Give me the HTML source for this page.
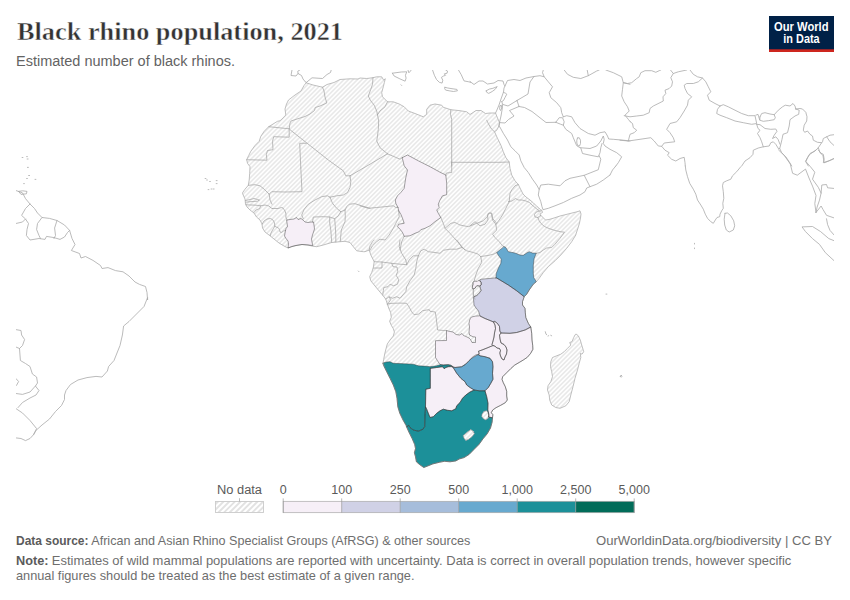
<!DOCTYPE html>
<html>
<head>
<meta charset="utf-8">
<title>Black rhino population, 2021</title>
<style>
html,body{margin:0;padding:0;background:#fff;}
body{width:850px;height:600px;overflow:hidden;font-family:"Liberation Sans",sans-serif;}
svg{display:block;}
text{font-family:"Liberation Sans",sans-serif;}
.ttl{font-family:"Liberation Serif",serif;font-weight:bold;font-size:26px;fill:#333;stroke:#fff;stroke-width:0.45px;}
.sub{font-size:14px;fill:#636363;}
.ft{font-size:13px;fill:#6e6e6e;}
.ftb{font-weight:bold;fill:#5b5b5b;}
.lg{font-size:12.5px;fill:#5a5a5a;}
.logo{font-weight:bold;font-size:12px;fill:#fff;}
</style>
</head>
<body>
<svg id="chart" width="850" height="600" viewBox="0 0 850 600">
<defs>
<pattern id="hatch" patternUnits="userSpaceOnUse" x="0" y="0" width="9" height="9">
<rect width="9" height="9" fill="#fff"/>
<path d="M-6.40,-2L-2,-6.40M-1.90,-2L-2,-1.90M2.60,-2L-2,2.60M7.10,-2L-2,7.10M11.60,-2L-2,11.60M16.10,-2L-2,16.10M20.60,-2L-2,20.60" stroke="#e9e9e9" stroke-width="1.6" fill="none"/>
</pattern>
<pattern id="hatchL" patternUnits="userSpaceOnUse" x="0" y="0" width="113" height="113">
<rect width="113" height="113" fill="#fff"/>
<path d="M-7.30,-2L-2,-7.30M-1.65,-2L-2,-1.65M4.00,-2L-2,4.00M9.65,-2L-2,9.65M15.30,-2L-2,15.30M20.95,-2L-2,20.95M26.60,-2L-2,26.60M32.25,-2L-2,32.25M37.90,-2L-2,37.90M43.55,-2L-2,43.55M49.20,-2L-2,49.20M54.85,-2L-2,54.85M60.50,-2L-2,60.50M66.15,-2L-2,66.15M71.80,-2L-2,71.80M77.45,-2L-2,77.45M83.10,-2L-2,83.10M88.75,-2L-2,88.75M94.40,-2L-2,94.40M100.05,-2L-2,100.05M105.70,-2L-2,105.70M111.35,-2L-2,111.35M117.00,-2L-2,117.00M122.65,-2L-2,122.65M128.30,-2L-2,128.30M133.95,-2L-2,133.95M139.60,-2L-2,139.60M145.25,-2L-2,145.25M150.90,-2L-2,150.90M156.55,-2L-2,156.55M162.20,-2L-2,162.20M167.85,-2L-2,167.85M173.50,-2L-2,173.50M179.15,-2L-2,179.15M184.80,-2L-2,184.80M190.45,-2L-2,190.45M196.10,-2L-2,196.10M201.75,-2L-2,201.75M207.40,-2L-2,207.40M213.05,-2L-2,213.05M218.70,-2L-2,218.70M224.35,-2L-2,224.35M230.00,-2L-2,230.00" stroke="#e2e2e2" stroke-width="1.9" fill="none"/>
</pattern>
</defs>
<rect width="850" height="600" fill="#fff"/>

<!-- MAP -->
<g id="map">
<!--MAPSTART-->
<clipPath id="mapclip"><rect x="16" y="70" width="818" height="408"/></clipPath>
<g clip-path="url(#mapclip)" fill="none" stroke-linejoin="round" stroke-linecap="round">
<clipPath id="afclip"><path d="M306.2,82.8 L313.0,85.0 L322.5,87.2 L327.0,84.5 L334.0,82.5 L340.0,79.5 L350.0,78.8 L358.0,79.0 L360.0,78.0 L366.7,78.5 L373.0,77.7 L376.7,76.8 L381.7,76.8 L383.7,80.2 L385.3,78.7 L384.3,82.7 L383.3,86.8 L381.7,92.7 L382.5,96.8 L387.5,101.8 L393.3,101.8 L399.2,104.0 L404.2,106.8 L408.3,111.0 L415.0,113.5 L423.3,116.8 L426.7,114.3 L426.7,109.3 L430.0,105.2 L435.0,104.0 L441.7,105.2 L443.3,107.3 L450.8,109.7 L460.0,110.7 L466.7,111.8 L470.0,114.5 L476.0,110.5 L481.0,110.5 L485.5,113.5 L490.0,113.0 L495.5,113.0 L497.5,118.0 L499.5,122.5 L498.5,127.0 L496.5,130.5 L494.5,131.7 L497.5,138.3 L500.8,145.0 L503.3,151.7 L505.8,157.5 L509.2,162.0 L510.0,168.3 L511.7,175.0 L515.0,180.8 L518.3,184.5 L521.0,190.0 L523.0,194.0 L526.0,197.0 L530.0,200.0 L533.5,203.0 L537.0,206.5 L540.5,209.5 L542.0,210.5 L542.5,212.5 L540.5,213.5 L540.0,215.0 L541.0,215.5 L543.5,218.0 L545.5,220.0 L549.0,219.5 L554.0,218.0 L560.0,216.0 L566.0,214.5 L572.0,213.0 L577.0,211.8 L580.0,210.8 L581.0,214.0 L580.5,218.0 L579.5,223.0 L578.0,228.0 L576.0,234.0 L575.8,235.0 L571.7,241.7 L566.7,248.3 L560.8,255.0 L555.0,260.8 L548.3,266.7 L543.3,272.5 L539.2,278.3 L536.3,281.7 L533.3,284.2 L529.2,290.0 L526.7,294.2 L524.2,296.7 L522.5,301.7 L522.5,305.0 L525.0,308.3 L525.3,312.5 L525.8,317.5 L528.3,323.3 L530.8,327.2 L531.7,333.3 L532.0,340.0 L532.7,345.3 L532.9,349.3 L530.7,353.3 L527.3,357.3 L523.3,360.0 L519.3,362.4 L514.7,365.1 L510.7,368.7 L506.7,372.7 L502.7,376.7 L502.0,379.3 L503.3,382.7 L505.3,386.7 L506.7,391.3 L506.7,396.0 L507.3,400.0 L505.3,402.7 L500.7,405.3 L496.0,407.7 L492.7,410.0 L491.3,412.7 L492.9,414.7 L492.5,417.8 L492.1,422.2 L490.5,428.0 L487.2,433.8 L483.1,438.7 L478.9,444.5 L474.0,449.4 L469.1,454.4 L464.1,457.6 L459.2,459.0 L455.9,460.9 L450.1,461.8 L444.4,461.3 L439.4,462.3 L432.8,463.9 L427.9,465.9 L423.8,467.5 L419.6,464.6 L416.4,461.8 L415.5,456.8 L414.4,452.7 L415.5,448.6 L414.7,444.5 L412.2,438.7 L408.9,432.1 L406.5,426.7 L403.0,420.0 L399.8,413.3 L397.8,406.7 L397.0,398.3 L395.8,391.7 L393.3,385.0 L390.0,378.3 L386.7,371.7 L384.2,366.7 L383.0,363.0 L383.7,359.3 L384.7,354.0 L386.0,348.7 L387.3,344.0 L390.0,340.0 L393.3,336.0 L394.4,332.0 L393.3,328.7 L391.3,325.3 L389.6,321.3 L391.3,317.3 L390.7,312.7 L388.7,308.0 L387.3,304.0 L385.8,299.2 L382.5,295.0 L378.3,290.0 L374.2,285.0 L370.8,280.8 L369.7,276.7 L371.7,272.5 L373.3,267.5 L374.2,261.7 L370.8,255.0 L369.2,250.0 L365.0,251.7 L363.3,251.7 L356.7,250.8 L353.3,246.7 L350.0,242.5 L345.0,241.3 L340.0,241.7 L331.7,242.5 L323.3,245.0 L316.7,246.7 L312.5,246.2 L308.0,245.0 L302.0,244.5 L296.0,245.5 L292.0,246.5 L288.0,248.0 L284.0,246.0 L279.0,243.0 L274.0,239.0 L269.0,235.0 L265.0,232.0 L262.5,228.0 L262.0,224.0 L260.0,220.0 L256.5,217.0 L254.0,213.0 L250.0,210.0 L247.0,207.0 L245.5,204.0 L245.0,199.0 L242.5,193.5 L242.5,192.8 L245.0,189.2 L248.3,185.3 L249.2,180.0 L249.7,173.3 L250.0,166.7 L247.5,163.3 L246.7,159.7 L248.7,155.5 L250.8,151.3 L255.0,145.5 L259.2,141.3 L260.8,136.3 L264.2,131.3 L268.7,126.7 L277.5,121.3 L280.0,120.8 L282.0,119.0 L285.8,115.0 L285.0,109.0 L286.5,104.0 L288.5,100.0 L295.0,95.0 L301.0,91.0 L304.0,85.5 L306.2,82.8Z M576.3,334.2 L578.3,335.8 L580.3,340.0 L581.7,345.0 L583.0,349.2 L583.7,351.7 L582.0,354.2 L580.3,353.3 L580.8,357.5 L579.2,363.3 L577.5,370.0 L575.0,378.3 L573.0,386.7 L570.8,395.0 L569.2,401.7 L565.8,405.8 L560.0,408.3 L555.8,407.5 L551.7,405.0 L549.7,400.0 L549.2,395.0 L547.5,390.0 L548.0,385.8 L550.8,381.7 L552.5,376.7 L551.7,371.7 L550.5,366.7 L550.8,361.7 L552.5,357.5 L556.7,355.8 L560.8,354.2 L564.2,351.7 L567.5,348.3 L570.8,345.0 L569.7,342.5 L572.0,341.7 L573.7,337.5 L575.0,335.0Z M463.3,435.4 L467.4,432.1 L470.7,429.6 L473.2,431.3 L474.3,433.8 L471.5,437.1 L468.2,439.5 L465.8,440.4 L464.1,438.2Z M482.2,414.0 L483.9,411.5 L486.4,410.7 L488.0,412.4 L488.8,415.6 L488.0,418.4 L485.5,419.8 L483.1,418.4 L481.9,416.5Z"/></clipPath>
<path d="M306.2,82.8 L313.0,85.0 L322.5,87.2 L327.0,84.5 L334.0,82.5 L340.0,79.5 L350.0,78.8 L358.0,79.0 L360.0,78.0 L366.7,78.5 L373.0,77.7 L376.7,76.8 L381.7,76.8 L383.7,80.2 L385.3,78.7 L384.3,82.7 L383.3,86.8 L381.7,92.7 L382.5,96.8 L387.5,101.8 L393.3,101.8 L399.2,104.0 L404.2,106.8 L408.3,111.0 L415.0,113.5 L423.3,116.8 L426.7,114.3 L426.7,109.3 L430.0,105.2 L435.0,104.0 L441.7,105.2 L443.3,107.3 L450.8,109.7 L460.0,110.7 L466.7,111.8 L470.0,114.5 L476.0,110.5 L481.0,110.5 L485.5,113.5 L490.0,113.0 L495.5,113.0 L497.5,118.0 L499.5,122.5 L498.5,127.0 L496.5,130.5 L494.5,131.7 L497.5,138.3 L500.8,145.0 L503.3,151.7 L505.8,157.5 L509.2,162.0 L510.0,168.3 L511.7,175.0 L515.0,180.8 L518.3,184.5 L521.0,190.0 L523.0,194.0 L526.0,197.0 L530.0,200.0 L533.5,203.0 L537.0,206.5 L540.5,209.5 L542.0,210.5 L542.5,212.5 L540.5,213.5 L540.0,215.0 L541.0,215.5 L543.5,218.0 L545.5,220.0 L549.0,219.5 L554.0,218.0 L560.0,216.0 L566.0,214.5 L572.0,213.0 L577.0,211.8 L580.0,210.8 L581.0,214.0 L580.5,218.0 L579.5,223.0 L578.0,228.0 L576.0,234.0 L575.8,235.0 L571.7,241.7 L566.7,248.3 L560.8,255.0 L555.0,260.8 L548.3,266.7 L543.3,272.5 L539.2,278.3 L536.3,281.7 L533.3,284.2 L529.2,290.0 L526.7,294.2 L524.2,296.7 L522.5,301.7 L522.5,305.0 L525.0,308.3 L525.3,312.5 L525.8,317.5 L528.3,323.3 L530.8,327.2 L531.7,333.3 L532.0,340.0 L532.7,345.3 L532.9,349.3 L530.7,353.3 L527.3,357.3 L523.3,360.0 L519.3,362.4 L514.7,365.1 L510.7,368.7 L506.7,372.7 L502.7,376.7 L502.0,379.3 L503.3,382.7 L505.3,386.7 L506.7,391.3 L506.7,396.0 L507.3,400.0 L505.3,402.7 L500.7,405.3 L496.0,407.7 L492.7,410.0 L491.3,412.7 L492.9,414.7 L492.5,417.8 L492.1,422.2 L490.5,428.0 L487.2,433.8 L483.1,438.7 L478.9,444.5 L474.0,449.4 L469.1,454.4 L464.1,457.6 L459.2,459.0 L455.9,460.9 L450.1,461.8 L444.4,461.3 L439.4,462.3 L432.8,463.9 L427.9,465.9 L423.8,467.5 L419.6,464.6 L416.4,461.8 L415.5,456.8 L414.4,452.7 L415.5,448.6 L414.7,444.5 L412.2,438.7 L408.9,432.1 L406.5,426.7 L403.0,420.0 L399.8,413.3 L397.8,406.7 L397.0,398.3 L395.8,391.7 L393.3,385.0 L390.0,378.3 L386.7,371.7 L384.2,366.7 L383.0,363.0 L383.7,359.3 L384.7,354.0 L386.0,348.7 L387.3,344.0 L390.0,340.0 L393.3,336.0 L394.4,332.0 L393.3,328.7 L391.3,325.3 L389.6,321.3 L391.3,317.3 L390.7,312.7 L388.7,308.0 L387.3,304.0 L385.8,299.2 L382.5,295.0 L378.3,290.0 L374.2,285.0 L370.8,280.8 L369.7,276.7 L371.7,272.5 L373.3,267.5 L374.2,261.7 L370.8,255.0 L369.2,250.0 L365.0,251.7 L363.3,251.7 L356.7,250.8 L353.3,246.7 L350.0,242.5 L345.0,241.3 L340.0,241.7 L331.7,242.5 L323.3,245.0 L316.7,246.7 L312.5,246.2 L308.0,245.0 L302.0,244.5 L296.0,245.5 L292.0,246.5 L288.0,248.0 L284.0,246.0 L279.0,243.0 L274.0,239.0 L269.0,235.0 L265.0,232.0 L262.5,228.0 L262.0,224.0 L260.0,220.0 L256.5,217.0 L254.0,213.0 L250.0,210.0 L247.0,207.0 L245.5,204.0 L245.0,199.0 L242.5,193.5 L242.5,192.8 L245.0,189.2 L248.3,185.3 L249.2,180.0 L249.7,173.3 L250.0,166.7 L247.5,163.3 L246.7,159.7 L248.7,155.5 L250.8,151.3 L255.0,145.5 L259.2,141.3 L260.8,136.3 L264.2,131.3 L268.7,126.7 L277.5,121.3 L280.0,120.8 L282.0,119.0 L285.8,115.0 L285.0,109.0 L286.5,104.0 L288.5,100.0 L295.0,95.0 L301.0,91.0 L304.0,85.5 L306.2,82.8Z" fill="url(#hatch)" stroke="none"/>
<path d="M576.3,334.2 L578.3,335.8 L580.3,340.0 L581.7,345.0 L583.0,349.2 L583.7,351.7 L582.0,354.2 L580.3,353.3 L580.8,357.5 L579.2,363.3 L577.5,370.0 L575.0,378.3 L573.0,386.7 L570.8,395.0 L569.2,401.7 L565.8,405.8 L560.0,408.3 L555.8,407.5 L551.7,405.0 L549.7,400.0 L549.2,395.0 L547.5,390.0 L548.0,385.8 L550.8,381.7 L552.5,376.7 L551.7,371.7 L550.5,366.7 L550.8,361.7 L552.5,357.5 L556.7,355.8 L560.8,354.2 L564.2,351.7 L567.5,348.3 L570.8,345.0 L569.7,342.5 L572.0,341.7 L573.7,337.5 L575.0,335.0Z" fill="url(#hatch)" stroke="none"/>
<path d="M463.3,435.4 L467.4,432.1 L470.7,429.6 L473.2,431.3 L474.3,433.8 L471.5,437.1 L468.2,439.5 L465.8,440.4 L464.1,438.2Z" fill="url(#hatch)" stroke="none"/>
<path d="M482.2,414.0 L483.9,411.5 L486.4,410.7 L488.0,412.4 L488.8,415.6 L488.0,418.4 L485.5,419.8 L483.1,418.4 L481.9,416.5Z" fill="url(#hatch)" stroke="none"/>
<path d="M292.0,70.0 L291.0,75.5 L296.0,76.0 L298.0,73.5 L301.5,75.5 L303.0,79.0 L305.5,82.0 L306.5,82.3 L312.0,77.8 L322.5,78.5 L327.0,74.5 L330.5,72.5 L331.2,70.0 M298.0,73.5 L297.8,71.2 L299.8,70.0 M401.0,84.8 L401.7,85.5 M470.0,81.5 L474.0,84.5 L479.0,81.0 L483.0,81.0 L487.5,84.0 L494.0,83.0 L498.0,80.5 L503.0,81.0 L504.0,84.5 L505.0,86.0 L504.0,88.0 L503.5,92.0 L501.0,99.0 L499.0,105.0 L496.5,111.0 L495.5,113.0 M505.0,86.0 L507.5,80.5 L514.0,79.5 L520.0,80.5 L526.0,78.0 L534.0,76.5 L540.0,75.7 L544.2,76.8 L542.5,72.7 L543.3,70.0 M534.0,76.5 L530.0,82.0 L529.0,88.0 L528.0,94.0 L517.0,100.5 M517.0,100.5 L508.0,106.0 L503.0,104.5 M503.7,92.5 L505.2,93.0 L506.8,94.2 L505.0,97.5 L503.5,100.5 L501.8,101.5 M501.8,101.5 L502.6,104.5 L502.2,109.0 L501.0,116.0 L499.5,122.5 M500.0,106.0 L501.2,105.0 L501.8,108.0 L500.5,110.5 L499.6,109.0 L500.0,106.0 M517.0,100.5 L519.0,106.5 M519.0,106.5 L509.5,110.5 L514.0,116.0 L508.5,119.5 L505.0,123.0 L499.7,122.6 M519.0,106.5 L524.5,107.5 L532.0,111.5 L546.0,122.5 L555.8,122.3 M555.8,122.3 L559.2,117.7 L562.5,117.7 L564.2,121.8 L563.3,125.2 L560.8,124.3 L555.8,122.3 M544.2,76.8 L548.3,81.8 L552.5,86.8 L549.2,92.7 L550.8,97.7 L556.7,102.7 L560.8,107.7 L561.7,112.7 L563.3,116.8 M563.3,116.8 L566.7,115.7 L571.7,116.8 L575.0,122.7 L580.0,128.5 L588.3,133.5 L595.0,135.2 L600.0,132.7 L605.0,131.8 L607.5,136.0 L608.7,139.0 L613.3,139.3 L623.3,140.2 L630.0,141.0 M563.3,125.2 L565.8,129.3 L571.7,133.5 L573.3,137.7 L575.0,141.8 L576.7,145.7 L580.0,147.7 L590.0,148.5 L596.7,146.0 L600.8,141.0 L603.3,136.0 L604.2,139.3 L603.3,143.5 L605.0,146.0 L610.0,149.3 L616.7,152.7 L621.7,156.8 L618.3,162.7 L615.8,166.0 M580.8,148.0 L582.5,153.5 L590.0,155.2 L598.3,156.8 L600.0,152.7 L600.8,147.7 L602.0,143.5 M564.2,70.0 L567.5,74.3 L573.3,77.3 L580.8,78.5 L588.3,75.7 L587.2,70.0 M588.3,75.7 L596.7,71.0 L599.2,70.0 M605.8,70.0 L613.3,72.7 L621.7,76.8 L623.3,82.7 L630.0,84.3 M623.3,82.7 L622.5,89.3 L621.7,96.0 L624.2,101.8 L627.5,106.8 L629.2,111.0 L625.0,115.2 L628.3,119.3 L630.3,121.8 M499.7,122.6 L499.0,127.0 L499.7,126.7 L503.3,133.3 L507.5,140.0 L510.8,146.7 L515.0,150.8 L519.2,155.0 L520.8,160.8 L524.2,167.5 L528.3,172.5 L532.5,179.2 L536.7,185.0 L539.2,189.5 L538.3,195.0 L540.8,201.7 L542.0,206.7 L543.0,209.7 L548.3,208.3 L555.0,205.8 L563.3,202.5 L571.7,198.3 L580.0,195.0 L585.0,191.7 L586.7,188.0 L590.0,186.7 L596.7,184.2 L603.3,180.0 L610.0,175.0 M539.2,189.5 L540.8,185.0 L548.3,184.2 L560.0,185.8 L565.0,180.8 L570.0,178.3 L584.2,175.3 L598.3,169.7 L600.8,159.2 L599.2,155.8 M584.2,175.3 L590.0,186.7 M358.3,271.0 L359.0,271.7 M606.0,294.1 L606.9,294.1 M392.4,73.2 L394.1,76.0 L399.8,78.8 L405.1,81.2 L406.1,78.1 L405.4,75.3 L406.8,71.8 L401.2,72.0 L392.4,73.2 M407.9,69.9 L408.9,72.8 L410.4,71.1 L411.3,69.9 M432.5,69.9 L434.4,75.3 L436.5,79.5 L439.3,82.3 L442.1,83.1 L442.8,80.2 L441.4,77.4 L443.5,76.0 L445.6,75.3 L444.2,73.9 L447.1,73.2 L447.5,71.1 L445.6,69.9 M444.9,87.3 L447.8,88.0 L452.0,88.7 L456.9,89.4 L457.4,90.8 L453.4,91.5 L449.2,90.8 L445.6,90.1 L444.7,88.7 L444.9,87.3 M458.4,69.9 L461.2,74.6 L464.0,80.9 L468.2,81.7 L470.6,82.3 M486.2,90.8 L489.4,89.1 L492.9,88.3 L497.2,86.6 L495.1,89.4 L492.2,91.5 L488.7,93.4 L486.6,92.2 L486.2,90.8 M610.0,175.0 L612.5,170.0 L615.8,166.0 M577.5,138.0 L579.2,137.7 L580.5,140.2 L580.5,143.5 L579.5,146.0 L577.8,145.7 L576.8,143.0 L576.8,140.2 L577.5,138.0 M623.7,82.7 L627.5,83.5 L631.7,82.7 L636.7,78.5 L639.2,76.8 L640.8,72.7 L645.0,70.7 L651.7,70.7 L655.8,72.3 L659.2,70.7 L660.8,70.0 M624.2,115.7 L630.0,116.8 L636.7,116.0 L643.3,115.2 L649.2,112.7 L650.0,108.5 L653.3,106.0 L660.0,102.7 L663.3,101.0 L663.0,96.8 L665.8,93.5 L665.0,90.2 L669.2,88.5 L671.7,86.0 L672.5,81.8 L670.8,77.7 L673.3,73.5 L678.3,71.8 L686.7,70.0 M670.5,70.0 L673.3,73.5 M630.3,121.8 L632.5,123.5 L633.3,127.7 L636.7,130.2 L634.2,132.7 L630.0,134.3 L628.3,141.0 M620.0,140.2 L628.3,141.0 L640.0,139.3 L650.8,137.7 L654.2,141.0 L658.3,146.0 L661.7,146.3 L665.0,150.2 L669.2,152.7 L667.5,155.2 L671.7,159.3 L675.8,161.0 L680.0,158.5 L684.2,157.3 L685.0,162.7 L685.3,166.0 M661.7,146.3 L664.2,143.0 L670.0,142.3 L674.7,141.8 L673.3,137.7 L670.0,132.7 L666.7,129.3 L670.0,123.5 L676.7,121.8 L680.0,117.7 L684.2,111.0 L687.5,105.2 L688.3,100.2 L691.7,96.8 L687.5,93.5 L685.0,88.5 L684.2,85.2 L686.7,83.5 L693.3,83.5 L698.3,81.8 L702.5,78.0 M690.0,70.0 L693.3,74.3 L697.5,76.8 L702.5,78.0 L705.8,81.8 L708.3,86.8 L710.8,91.8 L707.5,95.2 L709.2,100.2 L715.0,103.5 L720.0,106.0 M720.0,106.0 L723.3,104.7 L728.3,106.8 L735.0,110.2 L741.7,113.5 L748.3,115.7 L755.0,115.7 L756.7,123.5 L751.7,124.3 L743.3,122.7 L735.0,121.0 L726.7,117.7 L720.0,115.2 L716.7,113.5 L717.5,109.3 L720.0,106.0 M755.8,115.2 L758.0,114.3 L758.7,116.8 L759.7,119.7 M760.0,116.8 L761.7,113.5 L765.0,112.7 L770.0,114.0 L774.2,114.7 L775.3,117.7 L774.2,119.7 L768.3,120.7 L763.3,121.3 L759.7,120.2 L760.0,116.8 M774.2,114.7 L778.3,110.2 L782.5,106.8 L785.3,105.2 L790.0,106.0 L793.0,103.5 L795.0,106.0 L795.8,109.0 M795.8,109.0 L799.2,110.2 L798.7,114.3 L795.0,116.0 L790.0,119.7 L789.2,126.0 L787.5,132.7 L783.0,134.3 L782.0,139.3 L780.8,144.3 L779.7,148.5 M795.8,109.0 L800.0,108.5 L802.5,109.0 L805.8,112.3 L807.0,116.8 L806.7,121.0 L804.2,125.2 L803.3,130.2 L804.7,132.3 L807.5,131.0 L810.0,134.3 L812.5,136.0 L813.3,140.2 L817.5,142.3 L821.7,142.7 L822.5,141.8 L823.3,138.5 L826.7,136.8 L830.0,135.2 L834.2,134.7 M826.7,136.8 L830.0,141.8 L834.2,145.7 M821.7,142.7 L818.3,147.7 L815.0,151.0 L810.0,153.5 L807.5,157.7 L805.8,161.8 L808.3,166.0 M818.3,147.7 L820.0,152.7 L823.3,154.3 L824.2,159.3 L823.3,162.7 L828.3,161.0 L834.2,158.5 M756.7,124.3 L760.0,124.7 L765.0,128.5 L770.8,129.3 L775.8,129.0 L777.0,131.3 L774.2,135.2 L772.5,138.5 L775.8,136.8 L778.0,139.3 L780.0,144.3 M756.7,124.3 L758.0,128.5 L760.0,130.2 L757.5,133.5 L760.0,137.7 L761.7,141.8 L763.3,146.8 M741.7,166.0 L745.0,161.0 L750.0,157.7 L753.0,154.3 L753.3,150.2 L758.3,148.0 L763.3,146.8 L769.2,146.0 L770.8,142.7 L773.3,141.8 L775.8,144.3 L778.7,149.0 L779.7,148.5 L781.7,152.7 L785.8,156.8 L789.2,161.8 L791.7,166.0 M685.3,166.0 L685.8,170.0 L687.5,176.7 L689.7,183.3 L693.3,189.2 L695.8,194.2 L697.5,200.0 L700.8,205.0 L703.3,209.2 L705.3,214.2 L707.5,218.3 L710.8,221.7 L713.3,223.3 L715.3,220.0 L717.0,217.5 L719.7,216.7 L720.0,214.2 L721.7,210.8 L723.3,208.3 L722.8,203.3 L723.8,198.3 L723.3,191.7 L722.5,185.8 L723.3,182.5 L726.7,180.8 L730.8,179.2 L732.5,175.8 L736.7,171.7 L740.8,166.7 M725.0,213.3 L727.5,213.0 L730.8,215.8 L733.7,220.8 L734.7,225.8 L733.3,230.0 L729.2,232.0 L726.3,230.0 L724.7,225.0 L724.2,219.2 L725.0,213.3 M694.5,243.3 L694.5,244.0 M694.5,248.0 L694.5,248.7 M778.6,150.0 L784.5,155.8 L790.3,164.0 L792.6,173.3 L797.3,175.2 L805.5,169.1 L809.0,178.0 L812.5,186.1 L816.0,195.5 L814.8,203.6 L816.0,212.5 M816.0,150.0 L809.4,154.7 L805.5,161.2 L810.1,166.3 L814.8,172.2 L812.5,179.2 L818.3,187.3 L821.1,193.1 L819.5,200.1 L817.1,207.1 L816.0,212.5 M818.3,150.0 L823.0,155.8 L824.1,162.8 L830.0,160.5 L834.6,158.2 M821.1,193.1 L821.8,185.0 L826.5,184.5 L827.6,187.8 L834.6,188.5 M816.0,212.5 L821.1,206.0 L823.0,209.5 L826.5,215.3 L834.6,218.1 M826.5,218.8 L827.6,224.6 L830.0,230.4 L834.6,235.6 M834.6,240.9 L828.8,238.6 L820.6,231.6 L812.5,226.5 L802.0,226.9 L805.5,231.6 L812.5,238.6 L819.5,244.4 L825.3,252.6 L834.6,261.2 M22.1,157.5 L22.9,157.5 M26.6,156.6 L27.4,156.6 M27.1,159.0 L28.1,159.0 M27.4,167.4 L28.4,167.4 M28.6,175.5 L29.6,175.5 M26.6,178.5 L27.4,178.5 M35.0,179.4 L35.9,179.4 M23.6,183.6 L24.4,183.6 M18.6,191.4 L22.5,190.8 L27.0,191.4 L26.4,193.8 L21.0,194.4 L18.6,191.4 M15.9,190.5 L22.5,192.9 L25.5,198.6 L30.0,204.0 L34.5,208.5 L37.5,213.0 L42.0,217.5 L49.5,218.4 L57.0,220.5 L64.5,225.0 L69.6,230.4 L72.0,238.5 L75.0,244.5 L71.4,250.5 L79.5,253.5 L81.0,258.0 L85.5,256.5 L93.0,260.4 L100.5,265.5 L102.0,268.5 L108.0,267.6 L115.5,270.6 L123.0,271.8 L129.0,276.0 L135.0,282.0 L139.5,284.4 L145.5,286.5 L147.0,292.5 L147.6,300.0 L147.6,297.5 L144.0,306.5 L136.5,314.0 L129.0,321.5 L123.6,326.0 L122.4,335.0 L120.0,345.5 L117.0,353.0 L114.0,360.5 L108.6,366.5 L107.4,371.0 L102.0,377.0 L96.0,376.4 L87.0,377.6 L78.0,380.0 L70.5,384.5 L66.0,390.5 L64.5,395.0 L64.5,399.5 L61.5,405.5 L55.5,411.5 L49.5,419.0 L42.0,425.0 L36.0,430.4 L33.6,434.6 L30.0,438.5 L25.5,440.6 L21.0,438.5 L15.9,437.9 M30.0,204.0 L25.5,208.5 L21.6,215.4 L25.5,219.0 L28.5,223.5 L27.0,229.5 L26.4,235.5 L30.0,240.0 L39.0,238.5 L45.0,239.4 L46.5,236.4 L54.0,237.6 L60.0,239.4 L64.5,237.0 L67.5,232.5 L69.6,230.4 M15.9,223.5 L22.5,222.0 L25.5,219.0 M42.0,217.5 L37.5,223.5 L36.6,229.5 L39.0,235.5 L40.5,238.5 M57.0,220.5 L54.6,228.0 L55.5,235.5 L54.0,238.5 M205.1,178.5 L205.9,178.5 M206.6,180.0 L207.4,180.0 M209.6,181.5 L210.4,181.5 M216.2,180.6 L217.1,180.6 M216.2,183.6 L217.1,183.6 M208.1,189.6 L208.9,189.6 M211.1,189.0 L211.9,189.0 M213.2,189.0 L214.1,189.0 M33.6,434.6 L36.6,428.6 L30.0,420.5 L22.5,413.0 L18.0,410.0 L15.9,408.5 M15.9,329.6 L21.0,330.5 L21.6,335.0 L24.6,339.5 L22.5,345.5 L19.5,348.5 L15.9,347.0 M19.5,348.5 L20.4,360.5 L25.5,363.5 L30.0,366.5 L32.4,374.0 L36.6,377.0 L37.5,383.0 L35.4,386.0 L39.0,390.5 L36.0,395.0 L30.0,398.0 L22.5,402.5 L18.0,407.6 M15.9,393.5 L22.5,394.4 L30.0,392.0 L35.4,386.0 M15.9,378.5 L18.6,381.5 L16.5,385.4" stroke="#a9a9a9" stroke-width="0.8"/>
<path d="M402.5,157.5 L407.5,155.0 L418.3,160.8 L430.0,166.7 L440.0,172.2 L445.8,175.0 L446.7,183.3 L446.7,194.7 L442.5,195.8 L440.0,200.0 L438.3,204.2 L439.2,207.5 L436.7,210.0 L438.3,213.3 L440.8,217.5 L435.0,221.7 L430.0,225.8 L425.0,228.3 L420.8,229.7 L419.2,231.7 L415.0,233.3 L410.0,235.8 L404.2,236.3 L402.5,232.5 L400.0,229.2 L397.5,226.7 L398.7,224.2 L404.2,223.3 L402.5,218.3 L400.8,214.2 L398.7,210.8 L398.0,207.5 L395.8,203.3 L395.3,200.0 L397.5,195.8 L400.8,192.5 L404.2,188.3 L405.0,182.5 L405.8,177.5 L407.5,170.0 L404.2,165.8 L403.0,160.8Z" fill="#f6eff7" stroke="none"/>
<path d="M287.0,220.0 L290.0,219.5 L294.0,219.0 L296.5,217.5 L298.0,219.5 L301.0,218.5 L303.0,220.0 L305.0,222.0 L308.0,222.5 L311.0,222.0 L313.5,222.0 L314.0,225.0 L314.5,229.0 L313.5,232.0 L312.5,235.0 L311.5,239.0 L312.0,242.0 L312.8,245.5 L308.0,245.0 L302.0,244.5 L296.0,245.5 L292.0,246.5 L288.0,248.0 L288.5,244.0 L288.0,241.0 L286.0,238.5 L284.5,236.0 L285.0,233.0 L285.5,230.5 L286.0,228.5 L287.5,226.5 L287.0,223.0Z" fill="#f6eff7" stroke="none"/>
<path d="M473.1,282.2 L474.2,281.1 L477.3,281.4 L478.1,280.5 L480.3,281.1 L481.2,282.7 L481.2,284.8 L479.9,285.9 L476.8,285.7 L476.0,286.6 L475.3,287.9 L474.0,289.0 L472.5,288.5 L472.1,287.0 L473.1,284.8Z" fill="#f6eff7" stroke="none"/>
<path d="M496.7,278.0 L508.3,285.0 L516.7,290.8 L524.2,296.7 L522.5,301.7 L522.5,305.0 L525.0,308.3 L525.3,312.5 L525.8,317.5 L528.3,323.3 L530.8,327.2 L525.0,330.0 L516.7,332.5 L510.0,333.3 L501.0,333.0 L499.8,331.0 L499.5,326.5 L497.5,323.5 L495.0,321.5 L493.5,322.0 L490.0,320.5 L485.0,318.5 L480.0,316.0 L478.5,311.0 L476.0,308.0 L474.0,305.0 L473.4,297.4 L474.2,296.5 L476.4,295.7 L478.1,294.4 L479.9,292.2 L481.2,290.3 L480.3,288.3 L479.9,286.1 L481.2,284.8 L481.2,282.7 L480.3,281.1 L479.5,279.9 L480.7,279.4Z" fill="#d0d1e6" stroke="none"/>
<path d="M504.2,246.7 L505.8,247.5 L508.3,251.7 L515.0,253.0 L520.0,255.0 L523.3,255.3 L526.7,253.0 L529.2,251.7 L532.5,253.0 L536.3,253.3 L534.2,258.3 L533.3,265.0 L533.3,273.3 L533.7,277.5 L536.3,281.7 L533.3,284.2 L529.2,290.0 L526.7,294.2 L524.2,296.7 L516.7,290.8 L508.3,285.0 L496.7,278.0 L495.8,278.3 L496.3,273.3 L498.3,268.3 L500.8,263.3 L501.3,259.2 L498.7,255.8 L496.7,252.5 L500.8,249.2Z" fill="#67a9cf" stroke="none"/>
<path d="M480.0,316.0 L485.0,318.5 L490.0,320.5 L493.5,322.0 L495.0,325.0 L495.5,328.5 L494.5,333.0 L494.0,337.0 L493.0,341.0 L492.0,344.5 L493.0,345.5 L487.0,348.0 L482.0,350.0 L478.5,351.2 L479.0,353.0 L479.5,354.2 L476.0,354.8 L473.0,356.7 L469.0,360.5 L465.0,364.8 L461.7,366.7 L455.0,367.5 L452.5,366.7 L450.8,365.3 L448.3,364.7 L443.3,365.0 L440.0,364.5 L437.5,360.8 L435.5,357.5 L435.5,340.7 L446.5,340.5 L446.5,330.5 L448.5,331.2 L453.0,332.0 L456.0,334.5 L459.5,335.0 L462.0,333.5 L463.5,335.5 L466.0,336.5 L469.0,338.0 L470.5,339.5 L472.0,342.5 L475.5,342.5 L475.5,337.0 L473.0,336.8 L469.5,335.0 L469.0,332.0 L469.5,327.0 L469.0,323.5 L469.5,320.5 L470.5,318.0 L471.5,317.0 L475.0,316.2Z" fill="#f6eff7" stroke="none"/>
<path d="M530.8,327.2 L531.7,333.3 L532.0,340.0 L532.7,345.3 L532.9,349.3 L530.7,353.3 L527.3,357.3 L523.3,360.0 L519.3,362.4 L514.7,365.1 L510.7,368.7 L506.7,372.7 L502.7,376.7 L502.0,379.3 L503.3,382.7 L505.3,386.7 L506.7,391.3 L506.7,396.0 L507.3,400.0 L505.3,402.7 L500.7,405.3 L496.0,407.7 L492.7,410.0 L491.3,412.7 L492.9,414.7 L492.5,417.8 L488.7,417.0 L488.8,414.2 L487.8,410.0 L488.0,403.3 L486.7,396.7 L485.0,390.8 L488.3,387.5 L490.8,383.3 L493.0,379.2 L492.5,373.3 L493.0,366.7 L492.5,361.7 L490.0,358.3 L485.0,356.7 L480.0,355.8 L478.3,354.7 L479.0,353.0 L478.5,351.2 L482.0,350.0 L487.0,348.0 L493.0,345.5 L495.0,346.2 L497.0,348.0 L499.5,348.5 L500.5,350.5 L499.8,353.0 L500.5,356.0 L502.0,359.0 L504.0,360.0 L505.0,357.0 L506.5,354.0 L507.0,350.0 L506.0,347.0 L504.0,344.5 L501.0,343.0 L500.0,339.0 L499.5,335.0 L501.0,333.0 L510.0,333.3 L516.7,332.5 L525.0,330.0Z" fill="#f6eff7" stroke="none"/>
<path d="M493.5,322.0 L495.0,325.0 L495.5,328.5 L494.5,333.0 L494.0,337.0 L493.0,341.0 L492.0,344.5 L493.0,345.5 L495.0,346.2 L497.0,348.0 L499.5,348.5 L500.5,350.5 L499.8,353.0 L500.5,356.0 L502.0,359.0 L504.0,360.0 L505.0,357.0 L506.5,354.0 L507.0,350.0 L506.0,347.0 L504.0,344.5 L501.0,343.0 L500.0,339.0 L499.5,335.0 L501.0,333.0 L499.8,331.0 L499.5,326.5 L497.5,323.5 L495.0,321.5Z" fill="#f6eff7" stroke="none"/>
<path d="M430.8,368.3 L436.7,367.5 L442.5,366.7 L444.2,368.7 L445.8,367.5 L448.3,366.7 L452.5,366.7 L454.2,369.2 L456.7,373.3 L460.8,378.3 L465.0,381.7 L466.7,385.0 L470.0,387.5 L474.2,390.0 L470.0,392.0 L465.8,395.0 L462.5,398.3 L460.0,402.5 L456.7,405.8 L455.8,408.7 L451.7,410.8 L447.5,410.3 L443.3,409.2 L440.0,410.8 L436.7,413.3 L433.3,416.7 L430.0,417.5 L428.3,413.3 L426.7,409.2 L425.5,406.7 L425.8,389.2 L430.3,388.3 L430.3,368.3Z" fill="#f6eff7" stroke="none"/>
<path d="M452.5,366.7 L455.0,367.5 L461.7,366.7 L466.7,363.3 L471.7,358.3 L476.7,355.3 L478.3,354.7 L480.0,355.8 L485.0,356.7 L490.0,358.3 L492.5,361.7 L493.0,366.7 L492.5,373.3 L493.0,379.2 L490.8,383.3 L488.3,387.5 L485.0,390.8 L479.2,390.8 L474.2,390.0 L470.0,387.5 L466.7,385.0 L465.0,381.7 L460.8,378.3 L456.7,373.3 L454.2,369.2Z" fill="#67a9cf" stroke="none"/>
<path d="M383.0,363.0 L386.7,362.0 L390.0,361.7 L393.3,363.3 L403.3,363.7 L413.3,364.2 L418.3,365.8 L426.7,366.3 L430.0,366.7 L436.7,365.8 L440.0,364.7 L443.3,365.0 L448.3,364.7 L450.8,365.3 L452.5,366.3 L448.3,366.7 L445.8,367.5 L444.2,368.7 L442.5,366.7 L436.7,367.5 L430.8,368.3 L430.3,368.3 L430.3,388.3 L425.8,389.2 L425.5,406.7 L425.0,415.0 L424.7,426.7 L423.0,429.2 L418.3,431.2 L413.3,430.0 L410.0,427.5 L408.7,425.3 L407.0,426.7 L403.0,420.0 L399.8,413.3 L397.8,406.7 L397.0,398.3 L395.8,391.7 L393.3,385.0 L390.0,378.3 L386.7,371.7 L384.2,366.7Z" fill="#1c9099" stroke="none"/>
<path d="M407.0,426.7 L408.7,425.3 L410.0,427.5 L413.3,430.0 L418.3,431.2 L423.0,429.2 L424.7,426.7 L425.0,415.0 L425.5,406.7 L426.7,409.2 L428.3,413.3 L430.0,417.5 L433.3,416.7 L436.7,413.3 L440.0,410.8 L443.3,409.2 L447.5,410.3 L451.7,410.8 L455.8,408.7 L456.7,405.8 L460.0,402.5 L462.5,398.3 L465.8,395.0 L470.0,392.0 L474.2,390.0 L479.2,390.8 L485.0,390.8 L486.7,396.7 L488.0,403.3 L487.8,410.0 L488.8,414.2 L488.7,417.0 L492.5,417.8 L492.1,422.2 L490.5,428.0 L487.2,433.8 L483.1,438.7 L478.9,444.5 L474.0,449.4 L469.1,454.4 L464.1,457.6 L459.2,459.0 L455.9,460.9 L450.1,461.8 L444.4,461.3 L439.4,462.3 L432.8,463.9 L427.9,465.9 L423.8,467.5 L419.6,464.6 L416.4,461.8 L415.5,456.8 L414.4,452.7 L415.5,448.6 L414.7,444.5 L412.2,438.7 L408.9,432.1 L406.5,426.7Z" fill="#1c9099" stroke="none"/>
<clipPath id="holeclip"><path d="M463.3,435.4 L467.4,432.1 L470.7,429.6 L473.2,431.3 L474.3,433.8 L471.5,437.1 L468.2,439.5 L465.8,440.4 L464.1,438.2Z M482.2,414.0 L483.9,411.5 L486.4,410.7 L488.0,412.4 L488.8,415.6 L488.0,418.4 L485.5,419.8 L483.1,418.4 L481.9,416.5Z"/></clipPath>
<path d="M463.3,435.4 L467.4,432.1 L470.7,429.6 L473.2,431.3 L474.3,433.8 L471.5,437.1 L468.2,439.5 L465.8,440.4 L464.1,438.2Z" fill="#fff" stroke="none"/>
<path d="M482.2,414.0 L483.9,411.5 L486.4,410.7 L488.0,412.4 L488.8,415.6 L488.0,418.4 L485.5,419.8 L483.1,418.4 L481.9,416.5Z" fill="#fff" stroke="none"/>
<path d="M463.3,435.4 L467.4,432.1 L470.7,429.6 L473.2,431.3 L474.3,433.8 L471.5,437.1 L468.2,439.5 L465.8,440.4 L464.1,438.2Z" fill="url(#hatch)" stroke="none"/>
<path d="M482.2,414.0 L483.9,411.5 L486.4,410.7 L488.0,412.4 L488.8,415.6 L488.0,418.4 L485.5,419.8 L483.1,418.4 L481.9,416.5Z" fill="url(#hatch)" stroke="none"/>
<path d="M463.3,435.4 L467.4,432.1 L470.7,429.6 L473.2,431.3 L474.3,433.8 L471.5,437.1 L468.2,439.5 L465.8,440.4 L464.1,438.2Z" stroke="#8d8d8d" stroke-width="0.7"/>
<path d="M482.2,414.0 L483.9,411.5 L486.4,410.7 L488.0,412.4 L488.8,415.6 L488.0,418.4 L485.5,419.8 L483.1,418.4 L481.9,416.5Z" stroke="#8d8d8d" stroke-width="0.7"/>
<path d="M306.2,82.8 L313.0,85.0 L322.5,87.2 L327.0,84.5 L334.0,82.5 L340.0,79.5 L350.0,78.8 L358.0,79.0 L360.0,78.0 L366.7,78.5 L373.0,77.7 L376.7,76.8 L381.7,76.8 L383.7,80.2 L385.3,78.7 L384.3,82.7 L383.3,86.8 L381.7,92.7 L382.5,96.8 L387.5,101.8 L393.3,101.8 L399.2,104.0 L404.2,106.8 L408.3,111.0 L415.0,113.5 L423.3,116.8 L426.7,114.3 L426.7,109.3 L430.0,105.2 L435.0,104.0 L441.7,105.2 L443.3,107.3 L450.8,109.7 L460.0,110.7 L466.7,111.8 L470.0,114.5 L476.0,110.5 L481.0,110.5 L485.5,113.5 L490.0,113.0 L495.5,113.0 L497.5,118.0 L499.5,122.5 L498.5,127.0 L496.5,130.5 L494.5,131.7 L497.5,138.3 L500.8,145.0 L503.3,151.7 L505.8,157.5 L509.2,162.0 L510.0,168.3 L511.7,175.0 L515.0,180.8 L518.3,184.5 L521.0,190.0 L523.0,194.0 L526.0,197.0 L530.0,200.0 L533.5,203.0 L537.0,206.5 L540.5,209.5 L542.0,210.5 L542.5,212.5 L540.5,213.5 L540.0,215.0 L541.0,215.5 L543.5,218.0 L545.5,220.0 L549.0,219.5 L554.0,218.0 L560.0,216.0 L566.0,214.5 L572.0,213.0 L577.0,211.8 L580.0,210.8 L581.0,214.0 L580.5,218.0 L579.5,223.0 L578.0,228.0 L576.0,234.0 L575.8,235.0 L571.7,241.7 L566.7,248.3 L560.8,255.0 L555.0,260.8 L548.3,266.7 L543.3,272.5 L539.2,278.3 L536.3,281.7 L533.3,284.2 L529.2,290.0 L526.7,294.2 L524.2,296.7 L522.5,301.7 L522.5,305.0 L525.0,308.3 L525.3,312.5 L525.8,317.5 L528.3,323.3 L530.8,327.2 L531.7,333.3 L532.0,340.0 L532.7,345.3 L532.9,349.3 L530.7,353.3 L527.3,357.3 L523.3,360.0 L519.3,362.4 L514.7,365.1 L510.7,368.7 L506.7,372.7 L502.7,376.7 L502.0,379.3 L503.3,382.7 L505.3,386.7 L506.7,391.3 L506.7,396.0 L507.3,400.0 L505.3,402.7 L500.7,405.3 L496.0,407.7 L492.7,410.0 L491.3,412.7 L492.9,414.7 L492.5,417.8 L492.1,422.2 L490.5,428.0 L487.2,433.8 L483.1,438.7 L478.9,444.5 L474.0,449.4 L469.1,454.4 L464.1,457.6 L459.2,459.0 L455.9,460.9 L450.1,461.8 L444.4,461.3 L439.4,462.3 L432.8,463.9 L427.9,465.9 L423.8,467.5 L419.6,464.6 L416.4,461.8 L415.5,456.8 L414.4,452.7 L415.5,448.6 L414.7,444.5 L412.2,438.7 L408.9,432.1 L406.5,426.7 L403.0,420.0 L399.8,413.3 L397.8,406.7 L397.0,398.3 L395.8,391.7 L393.3,385.0 L390.0,378.3 L386.7,371.7 L384.2,366.7 L383.0,363.0 L383.7,359.3 L384.7,354.0 L386.0,348.7 L387.3,344.0 L390.0,340.0 L393.3,336.0 L394.4,332.0 L393.3,328.7 L391.3,325.3 L389.6,321.3 L391.3,317.3 L390.7,312.7 L388.7,308.0 L387.3,304.0 L385.8,299.2 L382.5,295.0 L378.3,290.0 L374.2,285.0 L370.8,280.8 L369.7,276.7 L371.7,272.5 L373.3,267.5 L374.2,261.7 L370.8,255.0 L369.2,250.0 L365.0,251.7 L363.3,251.7 L356.7,250.8 L353.3,246.7 L350.0,242.5 L345.0,241.3 L340.0,241.7 L331.7,242.5 L323.3,245.0 L316.7,246.7 L312.5,246.2 L308.0,245.0 L302.0,244.5 L296.0,245.5 L292.0,246.5 L288.0,248.0 L284.0,246.0 L279.0,243.0 L274.0,239.0 L269.0,235.0 L265.0,232.0 L262.5,228.0 L262.0,224.0 L260.0,220.0 L256.5,217.0 L254.0,213.0 L250.0,210.0 L247.0,207.0 L245.5,204.0 L245.0,199.0 L242.5,193.5 L242.5,192.8 L245.0,189.2 L248.3,185.3 L249.2,180.0 L249.7,173.3 L250.0,166.7 L247.5,163.3 L246.7,159.7 L248.7,155.5 L250.8,151.3 L255.0,145.5 L259.2,141.3 L260.8,136.3 L264.2,131.3 L268.7,126.7 L277.5,121.3 L280.0,120.8 L282.0,119.0 L285.8,115.0 L285.0,109.0 L286.5,104.0 L288.5,100.0 L295.0,95.0 L301.0,91.0 L304.0,85.5 L306.2,82.8Z" stroke="#ababab" stroke-width="0.75"/>
<path d="M576.3,334.2 L578.3,335.8 L580.3,340.0 L581.7,345.0 L583.0,349.2 L583.7,351.7 L582.0,354.2 L580.3,353.3 L580.8,357.5 L579.2,363.3 L577.5,370.0 L575.0,378.3 L573.0,386.7 L570.8,395.0 L569.2,401.7 L565.8,405.8 L560.0,408.3 L555.8,407.5 L551.7,405.0 L549.7,400.0 L549.2,395.0 L547.5,390.0 L548.0,385.8 L550.8,381.7 L552.5,376.7 L551.7,371.7 L550.5,366.7 L550.8,361.7 L552.5,357.5 L556.7,355.8 L560.8,354.2 L564.2,351.7 L567.5,348.3 L570.8,345.0 L569.7,342.5 L572.0,341.7 L573.7,337.5 L575.0,335.0Z" stroke="#ababab" stroke-width="0.75"/>
<path d="M322.5,87.2 L324.0,91.0 L325.0,97.0 L326.8,103.0 L320.0,106.0 L315.2,107.5 L314.5,110.5 L310.0,114.0 L305.0,116.5 L297.0,119.0 L291.0,121.0 L290.0,123.0 L290.0,123.0 L289.2,128.8 M289.2,128.8 L268.7,126.7 M289.2,128.8 L289.2,137.2 L273.7,136.7 L272.5,141.3 L273.0,149.7 L267.5,150.5 L266.3,154.7 L267.0,160.2 L246.7,159.7 M306.3,143.3 L299.7,143.3 L300.8,168.0 M373.0,77.7 L372.5,84.3 L370.8,89.3 L368.3,96.0 L370.3,100.2 L374.2,105.2 L376.7,111.0 L377.5,114.8 M377.5,114.8 L380.0,111.0 L385.0,106.8 L387.5,101.8 M377.5,114.8 L378.7,121.0 L378.3,129.3 L377.5,136.0 L376.7,141.0 L380.0,147.7 L387.5,153.8 M450.8,109.7 L450.5,114.3 L451.7,119.3 L451.7,166.0 M486.7,120.2 L488.5,124.0 L491.5,129.0 L494.3,131.5 M451.7,162.3 L500.0,162.3 L509.2,162.0 M518.3,184.5 L515.0,185.8 L511.7,190.0 L510.0,193.3 L509.2,201.7 M300.8,168.0 L302.0,191.7 L285.0,192.0 L271.7,191.7 L269.2,194.2 M248.3,185.3 L255.0,184.7 L260.0,185.8 L264.2,189.2 L269.2,194.2 M269.2,194.2 L270.0,200.0 L272.0,204.2 M245.5,200.5 L250.0,199.5 L254.0,198.5 L257.5,199.5 L259.5,200.0 L257.5,201.2 L253.0,201.5 L249.0,201.8 L245.8,202.2 M246.0,204.8 L251.0,205.0 L256.0,205.2 L260.5,205.8 L265.0,205.0 L269.0,206.0 L271.0,208.0 L272.5,208.5 M260.5,205.8 L259.8,208.5 L256.0,210.0 L254.0,212.5 M272.5,208.5 L278.0,208.5 L281.5,207.5 L283.0,208.0 L285.0,211.0 L286.0,214.0 L285.8,217.0 L287.0,220.0 M262.2,224.0 L264.0,221.0 L267.0,219.0 L270.5,218.5 L273.0,220.0 L274.5,223.0 L274.8,226.0 L273.5,228.5 L272.0,231.0 L270.8,233.5 L270.5,235.5 M274.8,226.0 L276.0,227.0 L278.0,227.5 L279.5,229.5 L280.0,232.0 L281.5,232.5 L283.5,231.0 L285.5,230.5 M303.3,218.7 L301.7,215.0 L304.2,209.2 L308.3,204.2 L315.0,200.0 L321.7,196.7 L327.5,195.8 L330.0,197.2 M330.0,197.2 L336.7,195.8 L343.3,195.0 L347.5,192.5 L350.0,187.5 L350.8,181.7 L350.0,175.8 M290.0,129.7 L328.3,160.0 L343.3,170.8 L345.8,175.8 L350.0,175.8 M350.0,175.8 L370.0,164.2 L387.5,153.8 M330.0,197.2 L332.5,203.3 L336.7,208.3 L340.8,211.7 M312.5,222.0 L313.3,217.0 L323.3,216.7 L329.7,217.0 L334.7,218.7 L338.3,215.8 L340.8,211.7 M329.7,217.0 L329.7,223.3 L330.8,230.0 L331.3,236.7 L331.7,242.5 M334.7,218.7 L335.3,226.7 L335.8,235.0 L335.8,242.0 M345.0,210.0 L345.3,215.8 L345.0,221.7 L341.3,230.0 L340.3,241.3 M340.8,211.7 L345.0,210.0 M345.0,210.0 L346.7,206.7 L349.2,204.2 L355.0,203.7 L361.7,205.8 L370.0,208.3 M451.7,162.0 L451.7,172.5 L446.3,173.0 L445.8,175.0 M387.5,153.8 L400.0,159.2 L402.5,157.5 M360.0,205.8 L368.3,208.3 L376.7,207.5 L385.0,206.7 L393.3,205.8 L395.8,207.5 L398.0,207.5 M398.7,210.8 L399.2,216.7 L395.8,223.3 L393.3,228.3 L389.2,235.0 L385.0,240.0 L380.0,239.2 L376.7,241.7 L372.5,245.8 L370.0,250.0 M404.2,236.3 L401.7,241.7 L400.0,250.0 M440.8,217.5 L443.3,223.3 L445.0,228.3 L450.0,233.3 L456.7,240.8 L463.3,248.3 L465.0,250.0 M445.0,228.3 L450.8,223.3 L455.0,222.5 L460.0,225.0 L468.3,226.7 L476.7,223.3 L483.3,220.8 L487.5,216.7 L488.3,213.3 L491.7,213.0 L492.5,218.3 L496.7,223.3 M509.2,201.7 L505.8,208.3 L502.5,215.0 L499.2,220.0 L496.7,223.3 L495.8,224.2 M470.0,225.8 L475.0,221.7 L480.0,225.8 L485.0,224.2 L488.0,220.0 L487.5,215.0 L490.0,212.5 L491.7,214.2 L492.5,220.0 L495.8,224.2 M495.8,224.2 L496.7,230.0 L492.5,234.2 L495.0,237.5 L499.2,241.7 L502.5,245.8 L504.2,246.7 M369.2,250.0 L370.0,245.8 L372.5,241.7 L374.2,240.0 M400.0,240.0 L399.2,246.7 L401.7,253.3 L405.8,260.0 L406.7,264.7 M374.2,261.7 L381.7,262.0 L391.7,263.3 L400.0,264.2 L406.7,264.7 M382.0,262.0 L382.0,268.0 L373.3,268.0 M391.7,263.3 L393.0,266.7 L397.0,267.0 L397.8,271.3 L396.2,275.3 L398.7,279.7 L397.5,284.2 L393.7,285.8 L390.0,284.2 L388.0,286.7 L383.8,287.5 L383.3,290.8 L382.8,295.0 M406.7,264.7 L409.2,260.0 L413.3,255.8 L418.3,255.8 M418.3,255.8 L416.7,261.7 L415.8,268.3 L414.2,275.0 L410.0,280.8 L406.7,286.7 L405.8,291.7 L400.0,298.3 L396.7,296.7 L392.5,298.3 L389.2,296.7 L385.8,299.2 M389.2,297.0 L390.8,299.7 L387.5,304.2 M418.3,255.8 L420.8,250.8 L424.2,249.2 L428.3,251.7 L435.0,252.5 L440.0,253.3 L443.3,250.3 L450.0,249.2 L456.7,249.2 L462.0,247.5 M462.0,247.5 L459.2,243.3 L456.7,240.0 M462.0,247.5 L466.7,250.8 L473.3,252.5 L478.3,254.2 L480.8,256.7 M480.8,256.7 L481.7,262.5 L478.3,268.3 L475.8,275.0 L474.2,280.8 L472.5,284.2 L472.5,287.5 L473.7,290.0 L473.3,295.0 L475.0,299.2 M387.3,304.0 L392.0,303.3 L400.0,303.1 L406.7,303.3 L409.3,307.3 L411.3,311.3 L414.0,314.7 L418.7,314.0 L422.7,310.7 L426.7,310.0 L429.3,309.7 L430.0,311.3 L435.3,312.0 L436.0,316.7 L436.7,322.0 L437.6,330.0 L446.3,330.7 M508.5,201.5 L512.0,201.0 L515.5,198.5 L518.0,200.0 L522.0,200.0 L526.0,201.0 L529.5,202.5 L532.0,205.0 L535.0,207.5 L538.0,210.0 L539.5,211.0 M541.0,210.8 L539.5,211.0 L536.0,212.2 L534.5,214.5 L535.0,217.0 L538.0,217.5 L539.5,216.0 L541.0,215.5 M538.0,217.5 L539.0,220.5 L541.0,223.5 L544.5,226.5 L549.0,228.5 L555.0,230.5 L561.0,231.8 L564.5,232.2 L560.0,238.3 L555.0,244.2 L551.7,247.5 L546.7,248.0 L543.3,250.0 L540.0,252.5 L536.3,253.3 M480.8,256.5 L488.0,255.5 L494.0,254.0 L497.0,252.5 M545.3,331.7 L546.0,334.2 L546.7,334.7 M548.0,336.0 L548.7,335.7 M550.7,335.3 L551.7,335.8 M620.3,376.3 L621.2,375.0 L622.0,376.3 L621.2,377.3 L620.3,376.3 M475.3,287.9 L476.8,285.8 L479.9,286.1 L480.3,288.3 L481.2,290.3 L479.9,292.2 L478.1,294.4 L476.4,295.7 L474.2,296.5 L473.4,297.4 L473.1,291.3 L473.1,289.0 L475.3,287.9" stroke="#a6a6a6" stroke-width="0.75"/>
<path d="M402.5,157.5 L407.5,155.0 L418.3,160.8 L430.0,166.7 L440.0,172.2 L445.8,175.0 L446.7,183.3 L446.7,194.7 L442.5,195.8 L440.0,200.0 L438.3,204.2 L439.2,207.5 L436.7,210.0 L438.3,213.3 L440.8,217.5 L435.0,221.7 L430.0,225.8 L425.0,228.3 L420.8,229.7 L419.2,231.7 L415.0,233.3 L410.0,235.8 L404.2,236.3 L402.5,232.5 L400.0,229.2 L397.5,226.7 L398.7,224.2 L404.2,223.3 L402.5,218.3 L400.8,214.2 L398.7,210.8 L398.0,207.5 L395.8,203.3 L395.3,200.0 L397.5,195.8 L400.8,192.5 L404.2,188.3 L405.0,182.5 L405.8,177.5 L407.5,170.0 L404.2,165.8 L403.0,160.8Z" stroke="#333" stroke-opacity="0.6" stroke-width="0.75"/>
<path d="M287.0,220.0 L290.0,219.5 L294.0,219.0 L296.5,217.5 L298.0,219.5 L301.0,218.5 L303.0,220.0 L305.0,222.0 L308.0,222.5 L311.0,222.0 L313.5,222.0 L314.0,225.0 L314.5,229.0 L313.5,232.0 L312.5,235.0 L311.5,239.0 L312.0,242.0 L312.8,245.5 L308.0,245.0 L302.0,244.5 L296.0,245.5 L292.0,246.5 L288.0,248.0 L288.5,244.0 L288.0,241.0 L286.0,238.5 L284.5,236.0 L285.0,233.0 L285.5,230.5 L286.0,228.5 L287.5,226.5 L287.0,223.0Z" stroke="#333" stroke-opacity="0.6" stroke-width="0.75"/>
<path d="M473.1,282.2 L474.2,281.1 L477.3,281.4 L478.1,280.5 L480.3,281.1 L481.2,282.7 L481.2,284.8 L479.9,285.9 L476.8,285.7 L476.0,286.6 L475.3,287.9 L474.0,289.0 L472.5,288.5 L472.1,287.0 L473.1,284.8Z" stroke="#333" stroke-opacity="0.6" stroke-width="0.75"/>
<path d="M496.7,278.0 L508.3,285.0 L516.7,290.8 L524.2,296.7 L522.5,301.7 L522.5,305.0 L525.0,308.3 L525.3,312.5 L525.8,317.5 L528.3,323.3 L530.8,327.2 L525.0,330.0 L516.7,332.5 L510.0,333.3 L501.0,333.0 L499.8,331.0 L499.5,326.5 L497.5,323.5 L495.0,321.5 L493.5,322.0 L490.0,320.5 L485.0,318.5 L480.0,316.0 L478.5,311.0 L476.0,308.0 L474.0,305.0 L473.4,297.4 L474.2,296.5 L476.4,295.7 L478.1,294.4 L479.9,292.2 L481.2,290.3 L480.3,288.3 L479.9,286.1 L481.2,284.8 L481.2,282.7 L480.3,281.1 L479.5,279.9 L480.7,279.4Z" stroke="#333" stroke-opacity="0.6" stroke-width="0.75"/>
<path d="M504.2,246.7 L505.8,247.5 L508.3,251.7 L515.0,253.0 L520.0,255.0 L523.3,255.3 L526.7,253.0 L529.2,251.7 L532.5,253.0 L536.3,253.3 L534.2,258.3 L533.3,265.0 L533.3,273.3 L533.7,277.5 L536.3,281.7 L533.3,284.2 L529.2,290.0 L526.7,294.2 L524.2,296.7 L516.7,290.8 L508.3,285.0 L496.7,278.0 L495.8,278.3 L496.3,273.3 L498.3,268.3 L500.8,263.3 L501.3,259.2 L498.7,255.8 L496.7,252.5 L500.8,249.2Z" stroke="#333" stroke-opacity="0.6" stroke-width="0.75"/>
<path d="M480.0,316.0 L485.0,318.5 L490.0,320.5 L493.5,322.0 L495.0,325.0 L495.5,328.5 L494.5,333.0 L494.0,337.0 L493.0,341.0 L492.0,344.5 L493.0,345.5 L487.0,348.0 L482.0,350.0 L478.5,351.2 L479.0,353.0 L479.5,354.2 L476.0,354.8 L473.0,356.7 L469.0,360.5 L465.0,364.8 L461.7,366.7 L455.0,367.5 L452.5,366.7 L450.8,365.3 L448.3,364.7 L443.3,365.0 L440.0,364.5 L437.5,360.8 L435.5,357.5 L435.5,340.7 L446.5,340.5 L446.5,330.5 L448.5,331.2 L453.0,332.0 L456.0,334.5 L459.5,335.0 L462.0,333.5 L463.5,335.5 L466.0,336.5 L469.0,338.0 L470.5,339.5 L472.0,342.5 L475.5,342.5 L475.5,337.0 L473.0,336.8 L469.5,335.0 L469.0,332.0 L469.5,327.0 L469.0,323.5 L469.5,320.5 L470.5,318.0 L471.5,317.0 L475.0,316.2Z" stroke="#333" stroke-opacity="0.6" stroke-width="0.75"/>
<path d="M530.8,327.2 L531.7,333.3 L532.0,340.0 L532.7,345.3 L532.9,349.3 L530.7,353.3 L527.3,357.3 L523.3,360.0 L519.3,362.4 L514.7,365.1 L510.7,368.7 L506.7,372.7 L502.7,376.7 L502.0,379.3 L503.3,382.7 L505.3,386.7 L506.7,391.3 L506.7,396.0 L507.3,400.0 L505.3,402.7 L500.7,405.3 L496.0,407.7 L492.7,410.0 L491.3,412.7 L492.9,414.7 L492.5,417.8 L488.7,417.0 L488.8,414.2 L487.8,410.0 L488.0,403.3 L486.7,396.7 L485.0,390.8 L488.3,387.5 L490.8,383.3 L493.0,379.2 L492.5,373.3 L493.0,366.7 L492.5,361.7 L490.0,358.3 L485.0,356.7 L480.0,355.8 L478.3,354.7 L479.0,353.0 L478.5,351.2 L482.0,350.0 L487.0,348.0 L493.0,345.5 L495.0,346.2 L497.0,348.0 L499.5,348.5 L500.5,350.5 L499.8,353.0 L500.5,356.0 L502.0,359.0 L504.0,360.0 L505.0,357.0 L506.5,354.0 L507.0,350.0 L506.0,347.0 L504.0,344.5 L501.0,343.0 L500.0,339.0 L499.5,335.0 L501.0,333.0 L510.0,333.3 L516.7,332.5 L525.0,330.0Z" stroke="#333" stroke-opacity="0.6" stroke-width="0.75"/>
<path d="M493.5,322.0 L495.0,325.0 L495.5,328.5 L494.5,333.0 L494.0,337.0 L493.0,341.0 L492.0,344.5 L493.0,345.5 L495.0,346.2 L497.0,348.0 L499.5,348.5 L500.5,350.5 L499.8,353.0 L500.5,356.0 L502.0,359.0 L504.0,360.0 L505.0,357.0 L506.5,354.0 L507.0,350.0 L506.0,347.0 L504.0,344.5 L501.0,343.0 L500.0,339.0 L499.5,335.0 L501.0,333.0 L499.8,331.0 L499.5,326.5 L497.5,323.5 L495.0,321.5Z" stroke="#333" stroke-opacity="0.6" stroke-width="0.75"/>
<path d="M430.8,368.3 L436.7,367.5 L442.5,366.7 L444.2,368.7 L445.8,367.5 L448.3,366.7 L452.5,366.7 L454.2,369.2 L456.7,373.3 L460.8,378.3 L465.0,381.7 L466.7,385.0 L470.0,387.5 L474.2,390.0 L470.0,392.0 L465.8,395.0 L462.5,398.3 L460.0,402.5 L456.7,405.8 L455.8,408.7 L451.7,410.8 L447.5,410.3 L443.3,409.2 L440.0,410.8 L436.7,413.3 L433.3,416.7 L430.0,417.5 L428.3,413.3 L426.7,409.2 L425.5,406.7 L425.8,389.2 L430.3,388.3 L430.3,368.3Z" stroke="#333" stroke-opacity="0.6" stroke-width="0.75"/>
<path d="M452.5,366.7 L455.0,367.5 L461.7,366.7 L466.7,363.3 L471.7,358.3 L476.7,355.3 L478.3,354.7 L480.0,355.8 L485.0,356.7 L490.0,358.3 L492.5,361.7 L493.0,366.7 L492.5,373.3 L493.0,379.2 L490.8,383.3 L488.3,387.5 L485.0,390.8 L479.2,390.8 L474.2,390.0 L470.0,387.5 L466.7,385.0 L465.0,381.7 L460.8,378.3 L456.7,373.3 L454.2,369.2Z" stroke="#333" stroke-opacity="0.6" stroke-width="0.75"/>
<path d="M383.0,363.0 L386.7,362.0 L390.0,361.7 L393.3,363.3 L403.3,363.7 L413.3,364.2 L418.3,365.8 L426.7,366.3 L430.0,366.7 L436.7,365.8 L440.0,364.7 L443.3,365.0 L448.3,364.7 L450.8,365.3 L452.5,366.3 L448.3,366.7 L445.8,367.5 L444.2,368.7 L442.5,366.7 L436.7,367.5 L430.8,368.3 L430.3,368.3 L430.3,388.3 L425.8,389.2 L425.5,406.7 L425.0,415.0 L424.7,426.7 L423.0,429.2 L418.3,431.2 L413.3,430.0 L410.0,427.5 L408.7,425.3 L407.0,426.7 L403.0,420.0 L399.8,413.3 L397.8,406.7 L397.0,398.3 L395.8,391.7 L393.3,385.0 L390.0,378.3 L386.7,371.7 L384.2,366.7Z" stroke="#333" stroke-opacity="0.6" stroke-width="0.75"/>
<path d="M407.0,426.7 L408.7,425.3 L410.0,427.5 L413.3,430.0 L418.3,431.2 L423.0,429.2 L424.7,426.7 L425.0,415.0 L425.5,406.7 L426.7,409.2 L428.3,413.3 L430.0,417.5 L433.3,416.7 L436.7,413.3 L440.0,410.8 L443.3,409.2 L447.5,410.3 L451.7,410.8 L455.8,408.7 L456.7,405.8 L460.0,402.5 L462.5,398.3 L465.8,395.0 L470.0,392.0 L474.2,390.0 L479.2,390.8 L485.0,390.8 L486.7,396.7 L488.0,403.3 L487.8,410.0 L488.8,414.2 L488.7,417.0 L492.5,417.8 L492.1,422.2 L490.5,428.0 L487.2,433.8 L483.1,438.7 L478.9,444.5 L474.0,449.4 L469.1,454.4 L464.1,457.6 L459.2,459.0 L455.9,460.9 L450.1,461.8 L444.4,461.3 L439.4,462.3 L432.8,463.9 L427.9,465.9 L423.8,467.5 L419.6,464.6 L416.4,461.8 L415.5,456.8 L414.4,452.7 L415.5,448.6 L414.7,444.5 L412.2,438.7 L408.9,432.1 L406.5,426.7Z" stroke="#333" stroke-opacity="0.6" stroke-width="0.75"/>
</g>
<!--MAPEND-->
</g>

<!-- HEADER -->
<text class="ttl" x="17" y="40" textLength="326" lengthAdjust="spacingAndGlyphs">Black rhino population, 2021</text>
<text class="sub" x="16" y="65.5" textLength="219" lengthAdjust="spacingAndGlyphs">Estimated number of black rhinos.</text>

<!-- LOGO -->
<g id="logo">
<rect x="769" y="16" width="65" height="36" fill="#002147"/>
<rect x="769" y="49.3" width="65" height="2.7" fill="#ce261e"/>
<text class="logo" x="801.3" y="30.8" text-anchor="middle" textLength="54.5" lengthAdjust="spacingAndGlyphs">Our World</text>
<text class="logo" x="801.5" y="42.6" text-anchor="middle" textLength="36.3" lengthAdjust="spacingAndGlyphs">in Data</text>
</g>

<!-- LEGEND -->
<g id="legend">
<text class="lg" x="239.5" y="494" text-anchor="middle" textLength="45" lengthAdjust="spacingAndGlyphs">No data</text>
<rect x="215.5" y="501.5" width="48" height="11" fill="url(#hatchL)" stroke="#cbcbcb" stroke-width="0.9"/>
<line x1="239.5" y1="498.2" x2="239.5" y2="501.5" stroke="#a0a0a0" stroke-width="0.7"/>
<rect x="283.2" y="501.3" width="58.5" height="11.4" fill="#f6eff7"/>
<rect x="341.7" y="501.3" width="58.5" height="11.4" fill="#d0d1e6"/>
<rect x="400.2" y="501.3" width="58.5" height="11.4" fill="#a6bddb"/>
<rect x="458.7" y="501.3" width="58.5" height="11.4" fill="#67a9cf"/>
<rect x="517.2" y="501.3" width="58.5" height="11.4" fill="#1c9099"/>
<rect x="575.7" y="501.3" width="58.5" height="11.4" fill="#016c59"/>
<rect x="283.2" y="501.3" width="351" height="11.4" fill="none" stroke="#a9a9a9" stroke-width="0.7"/>
<path d="M283.2,498.4V512.7M341.7,498.4V512.7M400.2,498.4V512.7M458.7,498.4V512.7M517.2,498.4V512.7M575.7,498.4V512.7M634.2,498.4V512.7" stroke="#9a9a9a" stroke-width="0.7" fill="none"/>
<text class="lg" x="283.2" y="494" text-anchor="middle">0</text>
<text class="lg" x="341.7" y="494" text-anchor="middle">100</text>
<text class="lg" x="400.2" y="494" text-anchor="middle">250</text>
<text class="lg" x="458.7" y="494" text-anchor="middle">500</text>
<text class="lg" x="517.2" y="494" text-anchor="middle">1,000</text>
<text class="lg" x="575.7" y="494" text-anchor="middle">2,500</text>
<text class="lg" x="634.2" y="494" text-anchor="middle">5,000</text>
</g>

<!-- FOOTER -->
<g id="footer">
<text class="ft ftb" x="16" y="545.2" textLength="72.5" lengthAdjust="spacingAndGlyphs">Data source:</text>
<text class="ft" x="91.3" y="545.2" textLength="379" lengthAdjust="spacingAndGlyphs">African and Asian Rhino Specialist Groups (AfRSG) &amp; other sources</text>
<text class="ft" x="832" y="545.2" text-anchor="end" textLength="236" lengthAdjust="spacingAndGlyphs">OurWorldinData.org/biodiversity | CC BY</text>
<text class="ft ftb" x="16" y="565.4" textLength="32.5" lengthAdjust="spacingAndGlyphs">Note:</text>
<text class="ft" x="51.8" y="565.4" textLength="739.5" lengthAdjust="spacingAndGlyphs">Estimates of wild mammal populations are reported with uncertainty. Data is correct in overall population trends, however specific</text>
<text class="ft" x="16" y="580.4" textLength="398.5" lengthAdjust="spacingAndGlyphs">annual figures should be treated as the best estimate of a given range.</text>
</g>
</svg>
</body>
</html>
